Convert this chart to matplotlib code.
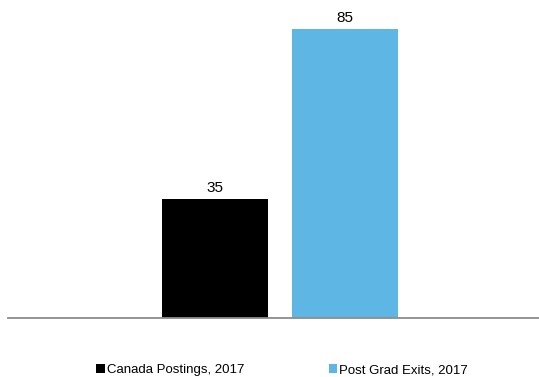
import matplotlib.pyplot as plt
from matplotlib.patches import Patch

plt.rcParams["font.family"] = ["Liberation Sans", "DejaVu Sans"]

series = ["Canada Postings, 2017", "Post Grad Exits, 2017"]
values = [35, 85]
colors = ["#000000", "#5DB6E4"]

fig = plt.figure(figsize=(5.39, 3.77), dpi=100)
ax = fig.add_axes([8 / 539, 59.5 / 377, 531 / 539, 306 / 377])

positions = [0, 1]
bars = ax.bar(positions, values, width=0.81, color=colors)
for b, v in zip(bars, values):
    ax.annotate(str(v), (b.get_x() + b.get_width() / 2, v),
                xytext=(0, 2.5), textcoords="offset points",
                ha="center", va="bottom", fontsize=11)

ax.set_xlim(-1.59, 2.49)
ax.set_ylim(0, 90)
for s in ["top", "right", "left"]:
    ax.spines[s].set_visible(False)
ax.spines["bottom"].set_color("#8c8c8c")
ax.spines["bottom"].set_linewidth(1.3)
ax.set_xticks([])
ax.set_yticks([])

handles = [Patch(facecolor=c, edgecolor="none") for c in colors]
fig.legend(handles, series, loc="center", bbox_to_anchor=(282 / 539, 7 / 377),
           ncol=2, frameon=False, fontsize=9.5, handlelength=0.65,
           handleheight=0.65, handletextpad=0.15, columnspacing=6.4,
           borderpad=0)

fig.savefig("out.png", dpi=100)
